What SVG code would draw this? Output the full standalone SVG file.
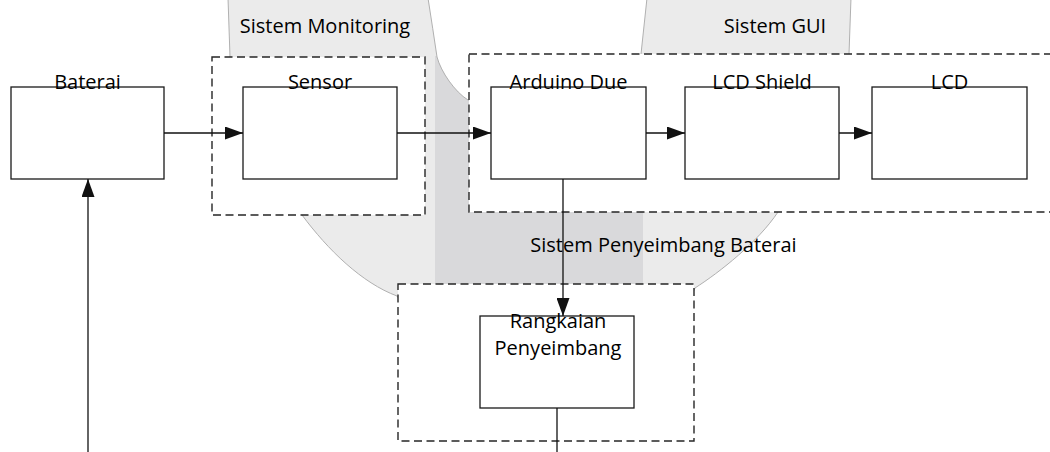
<svg xmlns="http://www.w3.org/2000/svg" width="1050" height="452" viewBox="0 0 1050 452">
  <style>
    .lbl { font-family: "Open Sans", "Liberation Sans", sans-serif; font-size: 20px; fill: #000000; text-anchor: middle; }
    .box { fill: #ffffff; stroke: #1a1a1a; stroke-width: 1.3; }
    .grp { fill: #ffffff; stroke: #262626; stroke-width: 1.4; stroke-dasharray: 8 4.5; }
    .conn { fill: none; stroke: #111111; stroke-width: 1.3; }
  </style>
  <defs>
    <path id="union" d="M228,-2 L230,57 L232,120 C240,160 270,190 302,215 C328,250 362,283 397,296 L420,330 L560,345 L680,320 L695,288 C720,272 758,242 778,212 L800,180 L845,120 L849,54 L851,-2 L647,-2 L641,54 L600,100 L480,100 L468,100 C455,92 441,72 437,57 Q433,30 428,-2 Z"/>
    <clipPath id="unionClip"><use href="#union"/></clipPath>
    <marker id="arr" markerUnits="userSpaceOnUse" markerWidth="18" markerHeight="13" refX="18" refY="6.5" orient="auto">
      <path d="M0,0 L18,6.5 L0,13 Z" fill="#111111"/>
    </marker>
  </defs>

  <g id="venn-background">
    <use href="#union" fill="#ebebeb"/>
    <rect x="435" y="56" width="208" height="240" fill="#d9d9db" clip-path="url(#unionClip)"/>
    <use href="#union" fill="none" stroke="#b0b0b0" stroke-width="1"/>
  </g>

  <g id="sistem-monitoring">
    <rect class="grp" x="212" y="57" width="213" height="158"/>
    <text class="lbl" x="325" y="33">Sistem Monitoring</text>
  </g>
  <g id="sistem-gui">
    <rect class="grp" x="469" y="54" width="590" height="158"/>
    <text class="lbl" x="775" y="33">Sistem GUI</text>
  </g>
  <g id="sistem-penyeimbang">
    <rect class="grp" x="398" y="284" width="296" height="157"/>
    <text class="lbl" x="663.5" y="252">Sistem Penyeimbang Baterai</text>
  </g>

  <g id="baterai">
    <rect class="box" x="11" y="87" width="153" height="92"/>
    <text class="lbl" x="87.5" y="89">Baterai</text>
  </g>
  <g id="sensor">
    <rect class="box" x="243" y="87" width="154" height="92"/>
    <text class="lbl" x="320" y="89">Sensor</text>
  </g>
  <g id="arduino-due">
    <rect class="box" x="491" y="87" width="155" height="92"/>
    <text class="lbl" x="568.5" y="89">Arduino Due</text>
  </g>
  <g id="lcd-shield">
    <rect class="box" x="685" y="87" width="154" height="92"/>
    <text class="lbl" x="762" y="89">LCD Shield</text>
  </g>
  <g id="lcd">
    <rect class="box" x="872" y="87" width="155" height="92"/>
    <text class="lbl" x="949.5" y="89">LCD</text>
  </g>
  <g id="rangkaian-penyeimbang">
    <rect class="box" x="480" y="316" width="154" height="92"/>
    <text class="lbl" x="558" y="328">Rangkaian</text>
    <text class="lbl" x="558" y="355">Penyeimbang</text>
  </g>

  <g id="connectors">
    <line class="conn" x1="164" y1="133" x2="243" y2="133" marker-end="url(#arr)"/>
    <line class="conn" x1="397" y1="133" x2="491" y2="133" marker-end="url(#arr)"/>
    <line class="conn" x1="646" y1="133" x2="685" y2="133" marker-end="url(#arr)"/>
    <line class="conn" x1="839" y1="133" x2="872" y2="133" marker-end="url(#arr)"/>
    <line class="conn" x1="563" y1="179" x2="563" y2="316" marker-end="url(#arr)"/>
    <line class="conn" x1="557" y1="408" x2="557" y2="453"/>
    <line class="conn" x1="88" y1="453" x2="88" y2="179" marker-end="url(#arr)"/>
  </g>
</svg>
